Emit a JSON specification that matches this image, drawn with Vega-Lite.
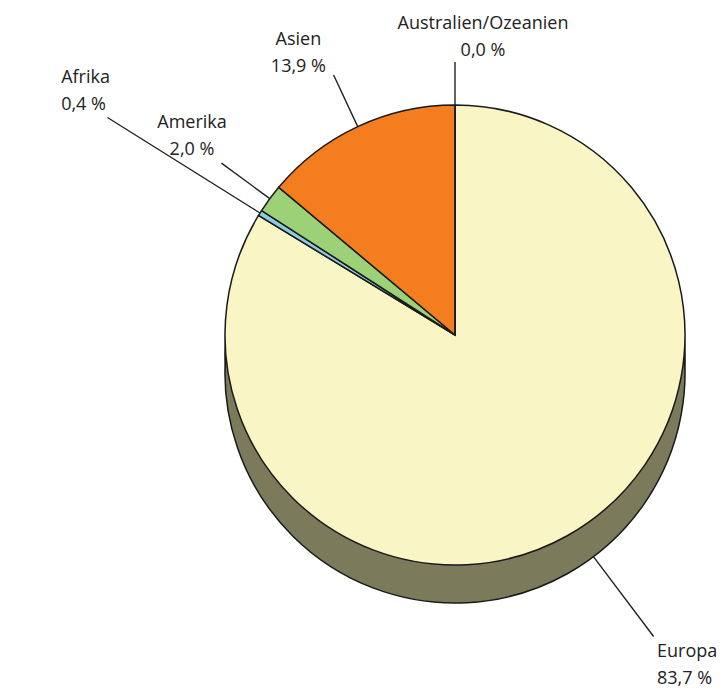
{
  "$schema": "https://vega.github.io/schema/vega-lite/v6.json",
  "width": 546,
  "height": 670,
  "autosize": {"type": "none"},
  "padding": {"left": 182, "top": 0, "right": 0, "bottom": 29},
  "background": "white",
  "config": {"view": {"stroke": null}},
  "data": {
    "values": [
      {"continent": "Europa", "share": 83.7, "rank": 1, "label": "Europa\n83,7 %"},
      {"continent": "Afrika", "share": 0.4, "rank": 2, "label": "Afrika\n0,4 %"},
      {"continent": "Amerika", "share": 2.0, "rank": 3, "label": "Amerika\n2,0 %"},
      {"continent": "Asien", "share": 13.9, "rank": 4, "label": "Asien\n13,9 %"},
      {"continent": "Australien/Ozeanien", "share": 0.0, "rank": 5, "label": "Australien/Ozeanien\n0,0 %"}
    ]
  },
  "encoding": {
    "theta": {"field": "share", "type": "quantitative", "stack": true},
    "order": {"field": "rank", "type": "quantitative"}
  },
  "layer": [
    {"mark": {"type": "arc", "radius": 230, "yOffset": 19, "fill": "#7b7b5c", "stroke": "#1a1a1a", "strokeWidth": 1.5}, "encoding": {}},
    {"mark": {"type": "arc", "radius": 230, "yOffset": 38, "fill": "#7b7b5c", "stroke": "#1a1a1a", "strokeWidth": 1.5}, "encoding": {}},
    {
      "mark": {"type": "arc", "radius": 230, "stroke": "#1a1a1a", "strokeWidth": 1.5},
      "encoding": {
        "color": {
          "field": "continent", "type": "nominal",
          "scale": {"domain": ["Europa", "Afrika", "Amerika", "Asien", "Australien/Ozeanien"], "range": ["#faf5c5", "#8fcbe0", "#9dd178", "#f47d20", "#cccccc"]},
          "legend": null
        }
      }
    },
    {
      "mark": {"type": "arc", "radius": 273, "radius2": 230, "padAngle": 3.14, "fillOpacity": 0, "stroke": "#222222", "strokeWidth": 1.4},
      "encoding": {"strokeOpacity": {"condition": {"test": "datum.continent === 'Australien/Ozeanien'", "value": 1}, "value": 0}}
    },
    {
      "mark": {"type": "arc", "radius": 287, "radius2": 230, "padAngle": 3.14, "fillOpacity": 0, "stroke": "#222222", "strokeWidth": 1.4},
      "encoding": {"strokeOpacity": {"condition": {"test": "datum.continent === 'Asien'", "value": 1}, "value": 0}}
    },
    {
      "mark": {"type": "arc", "radius": 290, "radius2": 230, "padAngle": 3.14, "fillOpacity": 0, "stroke": "#222222", "strokeWidth": 1.4},
      "encoding": {"strokeOpacity": {"condition": {"test": "datum.continent === 'Amerika'", "value": 1}, "value": 0}}
    },
    {
      "mark": {"type": "arc", "radius": 410, "radius2": 230, "padAngle": 3.14, "fillOpacity": 0, "stroke": "#222222", "strokeWidth": 1.4},
      "encoding": {"strokeOpacity": {"condition": {"test": "datum.continent === 'Afrika'", "value": 1}, "value": 0}}
    },
    {
      "mark": {"type": "arc", "radius": 330, "radius2": 230, "yOffset": 38, "padAngle": 3.14, "fillOpacity": 0, "stroke": "#222222", "strokeWidth": 1.4},
      "encoding": {
        "theta": {"field": "share", "type": "quantitative", "stack": true, "scale": {"domain": [0, 100], "range": [1.181, 4.3226]}},
        "strokeOpacity": {"condition": {"test": "datum.continent === 'Europa'", "value": 1}, "value": 0}
      }
    },
    {
      "mark": {"type": "text", "radius": 298, "dx": 28, "dy": -13.5, "align": "center", "baseline": "middle", "font": "Open Sans", "fontSize": 18, "lineHeight": 27, "lineBreak": "\n", "fill": "#222222"},
      "encoding": {"text": {"condition": {"test": "datum.continent === 'Australien/Ozeanien'", "field": "label", "type": "nominal"}, "value": ""}}
    },
    {
      "mark": {"type": "text", "radius": 311.2, "dx": -25, "dy": -13.5, "align": "center", "baseline": "middle", "font": "Open Sans", "fontSize": 18, "lineHeight": 27, "lineBreak": "\n", "fill": "#222222"},
      "encoding": {"text": {"condition": {"test": "datum.continent === 'Asien'", "field": "label", "type": "nominal"}, "value": ""}}
    },
    {
      "mark": {"type": "text", "radius": 334, "dx": 6, "dy": -13.5, "align": "center", "baseline": "middle", "font": "Open Sans", "fontSize": 18, "lineHeight": 27, "lineBreak": "\n", "fill": "#222222"},
      "encoding": {"text": {"condition": {"test": "datum.continent === 'Amerika'", "field": "label", "type": "nominal"}, "value": ""}}
    },
    {
      "mark": {"type": "text", "radius": 459.9, "dx": -4, "dy": -13.5, "align": "left", "baseline": "middle", "font": "Open Sans", "fontSize": 18, "lineHeight": 27, "lineBreak": "\n", "fill": "#222222"},
      "encoding": {"text": {"condition": {"test": "datum.continent === 'Afrika'", "field": "label", "type": "nominal"}, "value": ""}}
    },
    {
      "mark": {"type": "text", "radius": 378.6, "dx": 16.5, "dy": -13.5, "align": "left", "baseline": "middle", "font": "Open Sans", "fontSize": 18, "lineHeight": 27, "lineBreak": "\n", "fill": "#222222"},
      "encoding": {"text": {"condition": {"test": "datum.continent === 'Europa'", "field": "label", "type": "nominal"}, "value": ""}}
    }
  ],
  "resolve": {"scale": {"theta": "independent"}}
}
